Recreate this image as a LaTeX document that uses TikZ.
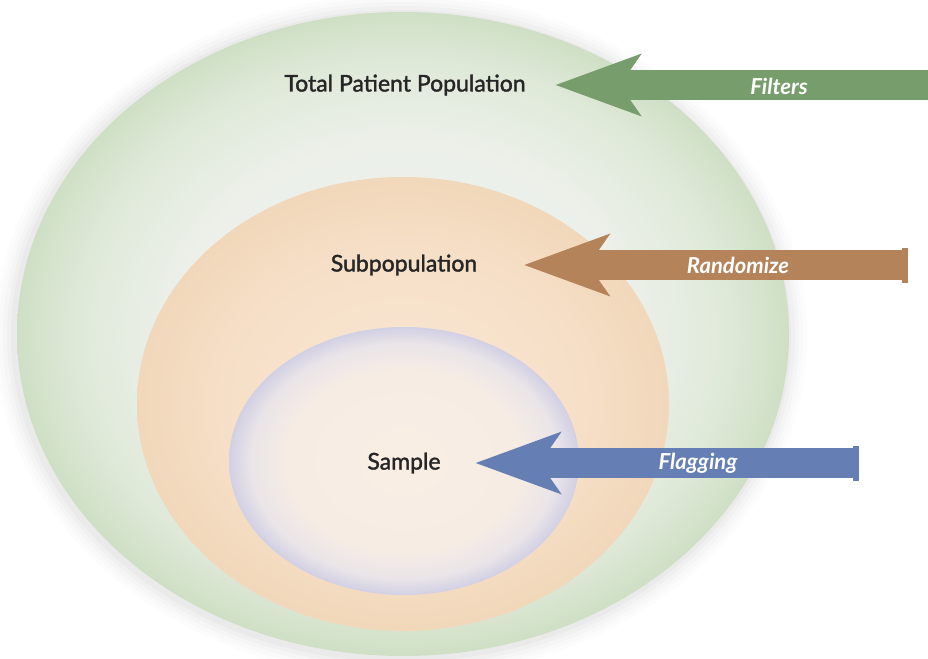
\documentclass[tikz,border=0pt]{standalone}
\usepackage{fontspec}
\setmainfont{Lato}
\newfontfamily\popfont{Lato}[FakeBold=1.6]
\usetikzlibrary{arrows.meta}

\definecolor{labelgray}{RGB}{38,38,38}
\definecolor{filtersgreen}{RGB}{120,157,108}
\definecolor{randombrown}{RGB}{181,131,89}
\definecolor{flagblue}{RGB}{101,127,180}

\pgfdeclareradialshading{totalshade}{\pgfpoint{0bp}{0bp}}{rgb(0bp)=(0.94,0.95,0.93); rgb(15bp)=(0.925,0.94,0.915); rgb(21bp)=(0.875,0.915,0.85); rgb(25bp)=(0.81,0.875,0.77); rgb(50bp)=(0.81,0.875,0.77)}
\pgfdeclareradialshading{subshade}{\pgfpoint{0bp}{0bp}}{rgb(0bp)=(0.975,0.905,0.835); rgb(17bp)=(0.965,0.875,0.78); rgb(25bp)=(0.945,0.845,0.73); rgb(50bp)=(0.945,0.845,0.73)}
\pgfdeclareradialshading{sampleshade}{\pgfpoint{0bp}{0bp}}{rgb(0bp)=(0.98,0.935,0.895); rgb(17bp)=(0.965,0.925,0.895); rgb(22bp)=(0.915,0.895,0.91); rgb(25bp)=(0.82,0.815,0.895); rgb(50bp)=(0.82,0.815,0.895)}

\tikzset{
	poplabel/.style={inner sep=0pt, text=labelgray, font=\popfont\fontsize{23}{27}\selectfont},
	arrowlabel/.style={inner sep=0pt, text=white, font=\fontsize{22}{26}\selectfont\bfseries\itshape},
	bigarrow/.style={line width=30pt, draw=#1, -{Stealth[length=86pt,width=63pt,inset=22pt,line width=0pt]}},
	cappedarrow/.style={line width=30pt, draw=#1, {Square[length=6pt,width=35pt,line width=0pt]}-{Stealth[length=86pt,width=63pt,inset=22pt,line width=0pt]}}
}

\begin{document}
\begin{tikzpicture}[x=1pt,y=-1pt]
			\useasboundingbox (0,0) rectangle (928,658);
			
			\foreach \g/\o in {20/0.01,16/0.012,12/0.015,8/0.018,4/0.022}
				\fill[black,opacity=\o] (401,336) ellipse ({386+\g} and {322+\g});
			\shade[shading=totalshade] (403,334) ellipse (386 and 322);
			\shade[shading=subshade] (403,404) ellipse (266 and 227);
			\shade[shading=sampleshade] (404,461) ellipse (175 and 134);
			
			\node[poplabel] (tpp) at (405,85) {Total Patient Population};
			\node[poplabel] (subpop) at (404,265) {Subpopulation};
			\node[poplabel] (sample) at (404,463) {Sample};
			
			\coordinate (filtersR) at (928,85);
			\coordinate (randomR) at (908,265);
			\coordinate (flagR) at (859,463);
			
			\draw[bigarrow=filtersgreen, shorten >=30pt] (filtersR) -- (tpp);
			\draw[cappedarrow=randombrown, shorten >=47pt] (randomR) -- (subpop);
			\draw[cappedarrow=flagblue, shorten >=35pt] (flagR) -- (sample);
			
			\node[arrowlabel] (filters) at (779,86) {Filters};
			\node[arrowlabel] (randomize) at (738,265) {Randomize};
			\node[arrowlabel] (flagging) at (698,463) {Flagging};
		\end{tikzpicture}
\end{document}
